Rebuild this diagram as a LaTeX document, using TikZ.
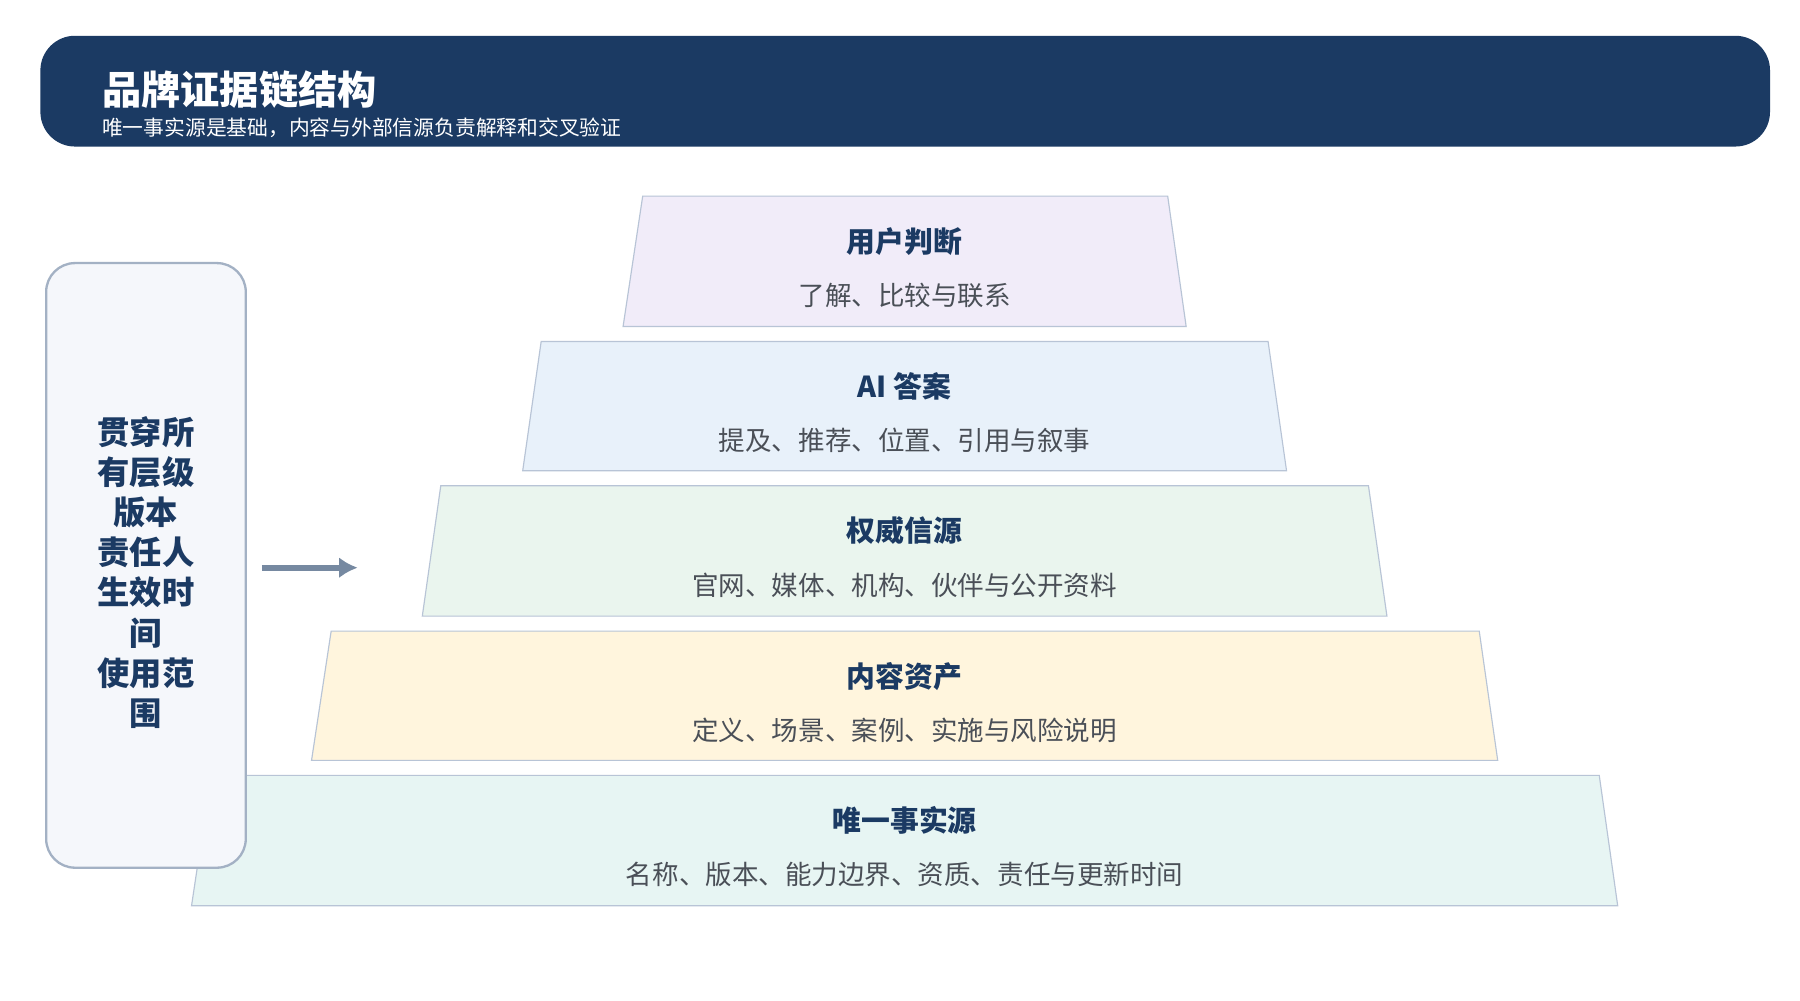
\documentclass[tikz,border=0pt]{standalone}
\usepackage{fontspec}
\setmainfont{Noto Sans CJK SC}
\usetikzlibrary{arrows.meta,positioning}

\definecolor{navy}{HTML}{1B3A63}
\definecolor{ink}{HTML}{1B3A63}
\definecolor{grey}{HTML}{4A4F57}
\definecolor{edge}{HTML}{B8C4D6}
\definecolor{sideedge}{HTML}{A3B1C4}
\definecolor{sidefill}{HTML}{F5F7FB}
\definecolor{lvpurple}{HTML}{F1ECF9}
\definecolor{lvblue}{HTML}{E8F1FA}
\definecolor{lvgreen}{HTML}{EAF5EE}
\definecolor{lvyellow}{HTML}{FFF5DD}
\definecolor{lvteal}{HTML}{E7F5F3}

\tikzset{
	layer/.style={draw=edge, line width=1pt},
	head/.style={font=\fontsize{25}{28}\selectfont\bfseries, text=ink},
	sub/.style={font=\fontsize{23}{26}\selectfont, text=grey},
}

\begin{document}
\begin{tikzpicture}[x=1pt, y=-1pt, >= latex]

\useasboundingbox[fill=white] (0,0) rectangle (1560,867);

% header
\fill[navy, rounded corners=30pt] (35,31) rectangle (1534,127);
\node (title) at (85,78) [anchor=west, text=white, font=\fontsize{34}{38}\selectfont\bfseries] {品牌证据链结构};
\node (subtitle) at (85,111) [anchor=west, text=white, font=\fontsize{18}{20}\selectfont] {唯一事实源是基础，内容与外部信源负责解释和交叉验证};

% layers: top y, bottom y, top left, top right, bottom left, bottom right
\foreach \ya/\yb/\xa/\xb/\xc/\xd/\col/\name/\desc in {
	170/283/557/1012/540/1028/lvpurple/用户判断/了解、比较与联系,
	296/408/469/1099/453/1115/lvblue/AI 答案/提及、推荐、位置、引用与叙事,
	421/534/382/1186/366/1202/lvgreen/权威信源/官网、媒体、机构、伙伴与公开资料,
	547/659/287/1282/270/1298/lvyellow/内容资产/定义、场景、案例、实施与风险说明,
	672/785/183/1386/166/1402/lvteal/唯一事实源/名称、版本、能力边界、资质、责任与更新时间}{
	\draw[layer, fill=\col] (\xa,\ya) -- (\xb,\ya) -- (\xd,\yb) -- (\xc,\yb) -- cycle;
	\node[head] at (784,{\ya+39}) {\name};
	\node[sub] at (784,{\ya+86}) {\desc};
}

% side box
\draw[draw=sideedge, line width=2pt, fill=sidefill, rounded corners=25pt] (40,228) rectangle (213,752);
\node (side) at (126.5,496) [align=center, text=ink, font=\fontsize{28}{34.8}\selectfont\bfseries]
	{贯穿所\\有层级\\版本\\责任人\\生效时\\间\\使用范\\围};

\coordinate (arrowstart) at (227,492);
\coordinate (arrowend) at (310,492);
\draw[-{Latex[length=16pt,width=18pt]}, line width=5pt, color=navy!60] (arrowstart) -- (arrowend);

\end{tikzpicture}
\end{document}
